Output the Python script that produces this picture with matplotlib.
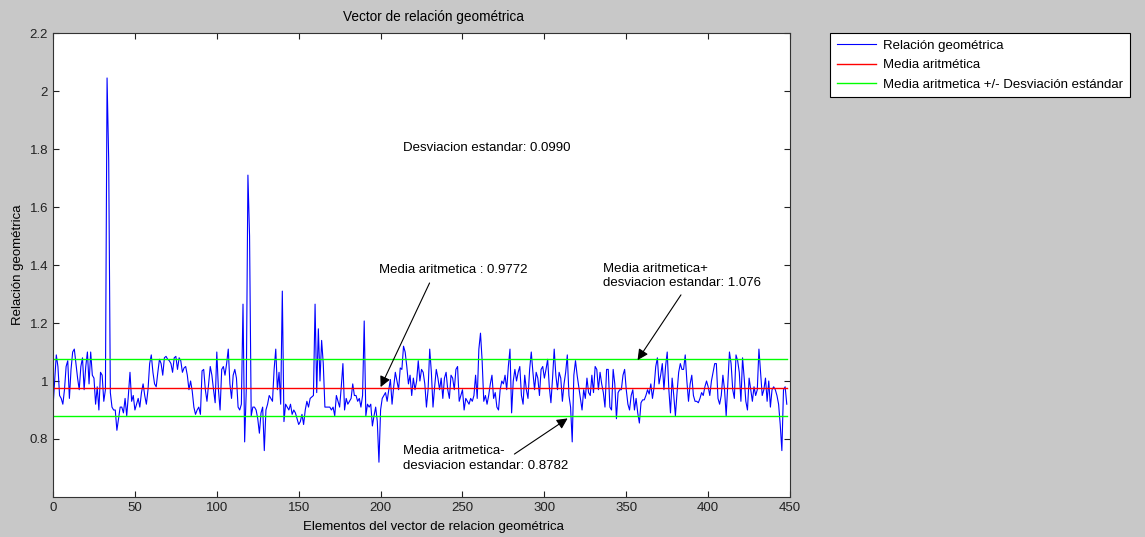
import numpy as np
import matplotlib.pyplot as plt

plt.rcParams['font.family'] = ['Liberation Sans', 'DejaVu Sans']

# Relación geométrica in pieces of about 55 elements
tramo_1 = [0.91, 1.00, 1.09, 1.05, 0.95, 0.94, 0.92, 0.97, 1.05, 1.07,
           0.94, 1.04, 1.10, 1.11, 1.06, 1.01, 0.97, 1.05, 1.08, 0.97,
           1.05, 1.10, 0.99, 1.10, 1.02, 1.01, 0.92, 0.98, 0.90, 1.03,
           1.02, 0.93, 0.97, 2.045, 1.76, 0.96, 0.91, 0.90, 0.90, 0.83,
           0.87, 0.91, 0.91, 0.89, 0.94, 0.88, 0.95, 1.03, 0.93, 0.95,
           0.90, 0.92, 0.94]
tramo_2 = [0.91, 0.96, 0.99, 0.95, 0.92, 0.97, 1.06, 1.09, 1.03, 0.99,
           0.98, 1.03, 1.075, 1.06, 1.02, 1.08, 1.085, 1.075, 1.07, 1.06,
           1.03, 1.08, 1.085, 1.04, 1.08, 1.07, 1.03, 1.045, 1.05, 1.02,
           0.97, 1.00, 0.965, 0.91, 0.885, 0.90, 0.91, 0.885, 1.035, 1.04,
           0.97, 0.93, 0.99, 1.05, 1.02, 0.97, 0.925, 1.10, 0.97, 0.90,
           1.04, 1.05, 1.02, 1.06, 1.11, 0.99, 0.94]
tramo_3 = [1.02, 1.04, 1.01, 0.91, 0.90, 0.92, 1.265, 0.79, 0.97, 1.71,
           1.50, 0.88, 0.91, 0.91, 0.90, 0.87, 0.82, 0.89, 0.91, 0.76,
           0.90, 0.92, 0.95, 0.94, 0.93, 1.04, 1.11, 0.97, 1.03, 0.92,
           1.31, 0.86, 0.92, 0.91, 0.90, 0.92, 0.885, 0.90, 0.89, 0.87,
           0.85, 0.86, 0.885, 0.85, 0.90, 0.93, 0.91, 0.94, 0.945, 0.95,
           1.265, 0.96, 1.18, 1.00, 1.14, 1.06, 0.91]
tramo_4 = [0.91, 0.91, 0.91, 0.90, 0.91, 0.88, 0.95, 0.93, 0.91, 0.98,
           1.06, 0.90, 0.94, 0.92, 0.93, 0.94, 0.99, 0.95, 0.95, 0.93,
           0.94, 0.91, 0.95, 1.207, 0.88, 0.92, 0.91, 0.92, 0.845, 0.88,
           0.91, 0.86, 0.72, 0.90, 0.94, 0.95, 0.96, 0.93, 0.97, 1.005,
           0.92, 0.98, 1.03, 1.00, 0.97, 1.045, 1.04, 1.12, 1.10, 1.05,
           0.99, 1.02, 0.95, 1.01, 0.97]
tramo_5 = [1.00, 1.07, 1.00, 1.04, 1.03, 0.99, 0.91, 0.97, 1.11, 1.03,
           0.91, 0.98, 1.04, 1.01, 0.97, 1.01, 0.94, 1.01, 1.03, 0.97,
           0.94, 1.02, 1.01, 0.97, 1.04, 1.05, 0.93, 0.95, 0.97, 0.90,
           0.94, 0.93, 0.92, 0.94, 0.93, 0.95, 1.02, 0.94, 1.11, 1.165,
           1.07, 0.93, 0.95, 0.92, 0.95, 0.99, 1.02, 0.94, 0.96, 0.91,
           0.90, 0.97, 1.00, 0.99, 1.02]
tramo_6 = [0.97, 1.05, 1.11, 0.89, 1.00, 1.04, 1.00, 1.03, 1.05, 0.95,
           0.92, 1.02, 0.97, 0.94, 1.04, 1.10, 1.03, 0.97, 1.03, 1.01,
           0.95, 1.04, 1.05, 1.01, 1.04, 1.075, 0.98, 0.925, 1.01, 1.11,
           1.02, 0.97, 1.03, 1.01, 0.93, 0.99, 1.03, 1.09, 0.95, 0.91,
           0.79, 1.02, 1.07, 1.02, 0.98, 0.94, 0.90, 0.97, 0.94, 1.01,
           0.96, 0.95, 1.02]
tramo_7 = [0.96, 1.05, 1.04, 0.97, 1.03, 0.99, 0.96, 0.91, 1.04, 1.04,
           0.91, 0.90, 1.04, 0.99, 0.87, 0.96, 0.97, 0.97, 1.02, 1.04,
           0.97, 0.92, 0.90, 0.95, 0.97, 0.90, 0.94, 0.89, 0.855, 0.925,
           0.935, 0.935, 0.95, 0.97, 0.955, 0.99, 0.94, 0.98, 1.05, 1.08,
           0.99, 1.02, 1.06, 0.97, 1.05, 1.10, 0.97, 0.89, 1.01, 0.95,
           0.88, 0.96, 1.03, 1.06, 1.04]
tramo_8 = [1.04, 1.09, 1.00, 0.93, 0.99, 1.02, 0.95, 0.93, 0.93, 0.925,
           0.94, 0.96, 0.95, 0.98, 1.00, 0.98, 0.95, 1.00, 1.03, 1.06,
           1.06, 0.94, 0.92, 0.95, 1.02, 0.97, 0.88, 0.99, 1.10, 1.06,
           0.97, 0.94, 1.09, 1.07, 1.03, 0.93, 1.08, 1.01, 0.93, 0.90,
           1.01, 0.97, 0.93, 0.98, 0.95, 0.97, 1.11, 1.03, 0.95, 0.97,
           1.01, 0.93, 1.00, 0.91, 0.97, 0.98, 0.97, 0.95, 0.92, 0.85,
           0.76, 0.97, 0.98, 0.92]

media = 0.9772
desviacion = 0.0990

relacion = np.array(tramo_1 + tramo_2 + tramo_3 + tramo_4 +
                    tramo_5 + tramo_6 + tramo_7 + tramo_8)
n = len(relacion)
x = np.arange(n)

fs = 9.5

fig = plt.figure(figsize=(11.45, 5.37), dpi=100, facecolor='#c8c8c8')
ax = fig.add_axes([0.0463, 0.0745, 0.6437, 0.864])

l1, = ax.plot(x, relacion, color='#0000ff', lw=0.8)
l2, = ax.plot(x, np.full(n, media), color='#ff0000', lw=1.0)
l3, = ax.plot(x, np.full(n, media + desviacion), color='#00ff00', lw=1.0)
ax.plot(x, np.full(n, media - desviacion), color='#00ff00', lw=1.0)

ax.set_xlim(0, 450)
ax.set_ylim(0.6, 2.2)
ax.set_xticks(np.arange(0, 451, 50))
yt = [0.8, 1.0, 1.2, 1.4, 1.6, 1.8, 2.0, 2.2]
ax.set_yticks(yt)
ax.set_yticklabels(['0.8', '1', '1.2', '1.4', '1.6', '1.8', '2', '2.2'])
ax.tick_params(direction='in', top=True, right=True, length=4,
               labelsize=fs, colors='#222222', width=0.8)
for s in ax.spines.values():
    s.set_color('#333333')
    s.set_linewidth(0.8)

# MATLAB puts title and xlabel a little right of the axes centre here
ax.text(0.5156, 1.019, 'Vector de relación geométrica', transform=ax.transAxes,
        fontsize=9.8, ha='center', va='bottom')
ax.set_xlabel('Elementos del vector de relacion geométrica', fontsize=fs)
ax.xaxis.set_label_coords(0.5156, -0.051)
ax.set_ylabel('Relación geométrica', fontsize=fs, labelpad=4)

ax.text(213.4, 1.803, 'Desviacion estandar: 0.0990', fontsize=fs, va='center')
ax.text(198.8, 1.383, 'Media aritmetica : 0.9772', fontsize=fs, va='center')
ax.text(336, 1.362, 'Media aritmetica+\ndesviacion estandar: 1.076',
        fontsize=fs, va='center', linespacing=1.3)
ax.text(213.4, 0.733, 'Media aritmetica-\ndesviacion estandar: 0.8782',
        fontsize=fs, va='center', linespacing=1.3)

flecha = dict(arrowstyle='-|>', color='black', lw=0.8, mutation_scale=16,
              shrinkA=0, shrinkB=0)
ax.annotate('', xy=(200, 0.979), xytext=(229.9, 1.338), arrowprops=flecha)
ax.annotate('', xy=(356.9, 1.072), xytext=(383.4, 1.297), arrowprops=flecha)
ax.annotate('', xy=(314.2, 0.871), xytext=(281.7, 0.748), arrowprops=flecha)

leg = fig.legend([l1, l2, l3],
                 ['Relación geométrica', 'Media aritmética',
                  'Media aritmetica +/- Desviación estándar'],
                 loc='upper left', bbox_to_anchor=(0.725, 0.9385),
                 fontsize=fs, handlelength=3.0, handletextpad=0.5,
                 borderaxespad=0, fancybox=False, framealpha=1,
                 edgecolor='black', borderpad=0.5, labelspacing=0.55)
leg.get_frame().set_linewidth(0.8)

fig.savefig('out.png', dpi=100, facecolor=fig.get_facecolor())
